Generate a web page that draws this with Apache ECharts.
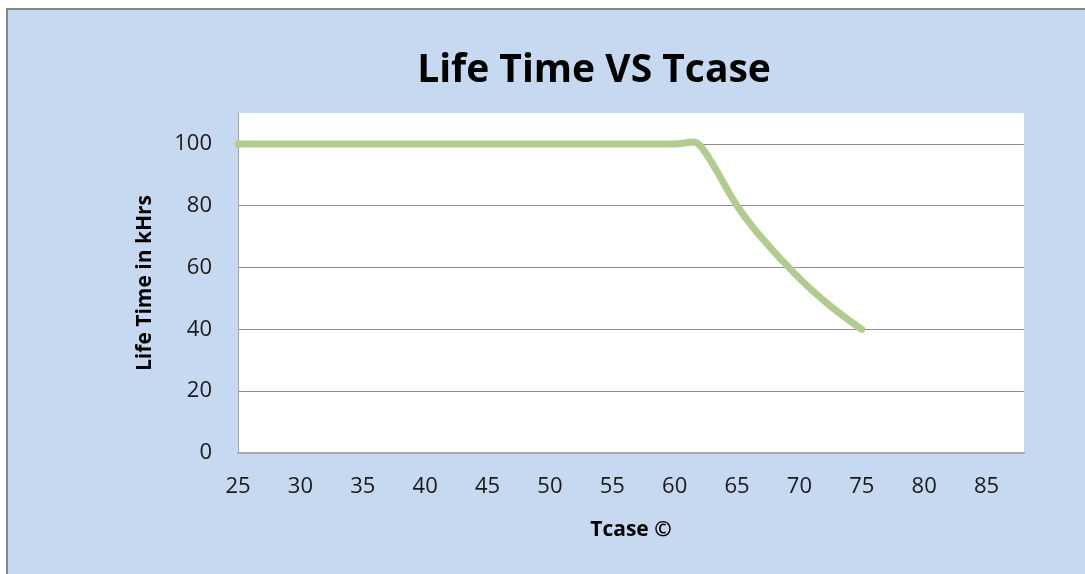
<!DOCTYPE html>
<html><head><meta charset="utf-8">
<script src="https://cdn.jsdelivr.net/npm/echarts@6/dist/echarts.min.js"></script>
<style>html,body{margin:0;padding:0;background:#fff}#c{width:1085px;height:574px}</style>
</head><body><div id="c"></div>
<script>
const titleText = 'Life Time VS Tcase';
const xName = 'Tcase \u00A9';
const yName = 'Life Time in kHrs';
const tcase = [25, 30, 35, 40, 45, 50, 55, 60, 61.5, 62.5, 65, 67, 70, 72.5, 75];
const lifeTime = [100, 100, 100, 100, 100, 100, 100, 100, 100.6, 97, 80, 69.5, 56.5, 47.5, 40];
const xMin = 25, xMax = 88, xStep = 5;
const yMin = 0, yMax = 110, yStep = 20;

const font = '"Open Sans", "Noto Sans", sans-serif';
const chart = echarts.init(document.getElementById('c'), null, {renderer: 'canvas'});
chart.setOption({
  backgroundColor: '#ffffff',
  animation: false,
  graphic: [
    {type: 'rect', shape: {x: 7, y: 9, width: 1100, height: 600}, style: {fill: '#C6D9F0', stroke: '#868686', lineWidth: 2}, z: -10},
    {type: 'rect', shape: {x: 238, y: 113, width: 786, height: 340}, style: {fill: '#ffffff'}, z: -5}
  ],
  title: {
    text: titleText, left: 589, top: 46, textAlign: 'center',
    textStyle: {fontFamily: font, fontWeight: 'bold', fontSize: 39, color: '#000'}
  },
  grid: {left: 238, top: 113, width: 786, height: 340, show: false},
  xAxis: {
    type: 'value', min: xMin, max: xMax, interval: xStep,
    name: xName, nameLocation: 'middle', nameGap: 67,
    nameTextStyle: {fontFamily: font, fontWeight: 'bold', fontSize: 21, color: '#000'},
    axisLine: {show: true, lineStyle: {color: '#a6a6a6', width: 2}},
    axisTick: {show: false},
    splitLine: {show: false},
    axisLabel: {showMaxLabel: false, margin: 23, fontFamily: font, fontSize: 22, color: '#1a1a1a'}
  },
  yAxis: {
    type: 'value', min: yMin, max: yMax, interval: yStep,
    name: yName, nameLocation: 'middle', nameGap: 82, nameRotate: 90,
    nameTextStyle: {fontFamily: font, fontWeight: 'bold', fontSize: 21, color: '#000'},
    axisLine: {show: true, lineStyle: {color: '#a6a6a6', width: 1}},
    axisTick: {show: false},
    splitLine: {show: true, showMaxLine: false, lineStyle: {color: '#8c8c8c', width: 1}},
    axisLabel: {showMaxLabel: false, margin: 26, fontFamily: font, fontSize: 22, color: '#1a1a1a'}
  },
  series: [{
    type: 'line', smooth: 0.35, symbol: 'none',
    data: tcase.map((t, i) => [t, lifeTime[i]]),
    lineStyle: {color: '#B3CB91', width: 7, cap: 'round', join: 'round'}
  }]
});
</script></body></html>
